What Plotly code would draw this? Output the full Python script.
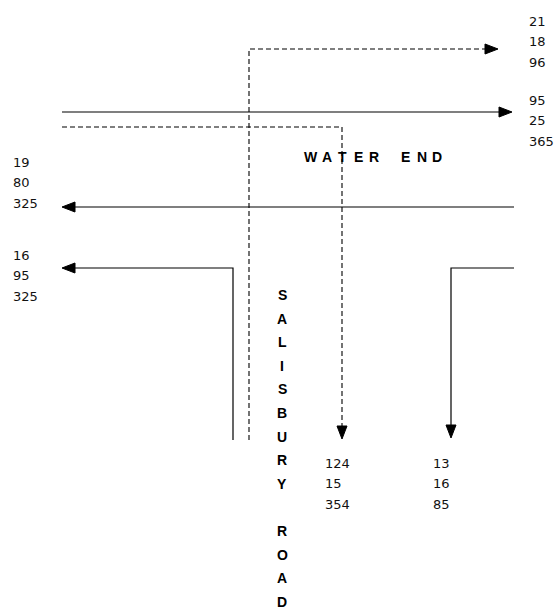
import plotly.graph_objects as go

# ---- data (counts shown at each movement) ----
ne_dashed_counts = [21, 18, 96]
east_counts = [95, 25, 365]
west_counts = [19, 80, 325]
west_turn_counts = [16, 95, 325]
south_dashed_counts = [124, 15, 354]
south_turn_counts = [13, 16, 85]
road_main = "WATER END"
road_side = "SALISBURY ROAD"

W, H = 558, 612
fig = go.Figure()

FONT = "DejaVu Sans, Verdana, sans-serif"
BFONT = "Liberation Sans, Arial, sans-serif"
ARROW_L, ARROW_HW = 13, 5


def add_path(pts, dash=None, width=1.2):
    fig.add_trace(go.Scatter(
        x=[p[0] for p in pts], y=[p[1] for p in pts], mode="lines",
        line=dict(color="black", width=width, dash=dash),
        hoverinfo="skip", showlegend=False))


def add_head(tip, direction):
    x, y = tip
    L, h = ARROW_L, ARROW_HW
    if direction == "right":
        pts = [(x, y), (x - L, y - h), (x - L, y + h)]
    elif direction == "left":
        pts = [(x, y), (x + L, y - h), (x + L, y + h)]
    else:  # down
        pts = [(x, y), (x - h, y - L), (x + h, y - L)]
    path = "M " + " L ".join(f"{px},{py}" for px, py in pts) + " Z"
    fig.add_shape(type="path", path=path, fillcolor="black",
                  line=dict(color="black", width=1), xref="x", yref="y")


def add_counts(vals, x, y0, dy=20.5):
    for i, v in enumerate(vals):
        fig.add_annotation(x=x, y=y0 + i * dy, text=str(v), showarrow=False,
                           xanchor="left", yanchor="middle",
                           font=dict(family=FONT, size=13, color="#111"))


def add_letters(word, x0, y0, dx, dy):
    for i, c in enumerate(word):
        if c == " ":
            continue
        fig.add_annotation(x=x0 + i * dx, y=y0 + i * dy, text=c, showarrow=False,
                           xanchor="center", yanchor="middle",
                           font=dict(family=BFONT, size=14, color="black",
                                     weight="bold"))


DASH = "5px,3px"
# dashed: from south, turning right to east
add_path([(249, 440), (249, 49), (486, 49)], dash=DASH, width=1.1)
add_head((498, 49), "right")
# solid eastbound
add_path([(62, 112), (499, 112)])
add_head((512, 112), "right")
# dashed: from west, turning right to south
add_path([(62, 127), (342, 127), (342, 426)], dash=DASH, width=1.1)
add_head((342, 439), "down")
# solid westbound
add_path([(514, 207), (75, 207)])
add_head((62, 207), "left")
# solid from south, turning left to west
add_path([(233, 440), (233, 268), (75, 268)])
add_head((62, 268), "left")
# solid from east, turning left to south
add_path([(514, 268), (451, 268), (451, 425)])
add_head((451, 438), "down")

add_counts(ne_dashed_counts, 527, 21)
add_counts(east_counts, 527, 100)
add_counts(west_counts, 11, 162)
add_counts(west_turn_counts, 11, 255)
add_counts(south_dashed_counts, 323, 463)
add_counts(south_turn_counts, 431, 463)

# road names
add_letters(road_main, 311, 157, 15.8, 0)
add_letters(road_side, 282, 295, 0, 23.6)

fig.update_layout(
    width=W, height=H, margin=dict(l=0, r=0, t=0, b=0),
    plot_bgcolor="white", paper_bgcolor="white",
    xaxis=dict(range=[0, W], visible=False, fixedrange=True),
    yaxis=dict(range=[H, 0], visible=False, fixedrange=True),
    showlegend=False,
)
fig.write_html(
    "out.html", config={"displayModeBar": False},
    post_script="document.body.style.margin='0';document.body.style.overflow='hidden';",
)
